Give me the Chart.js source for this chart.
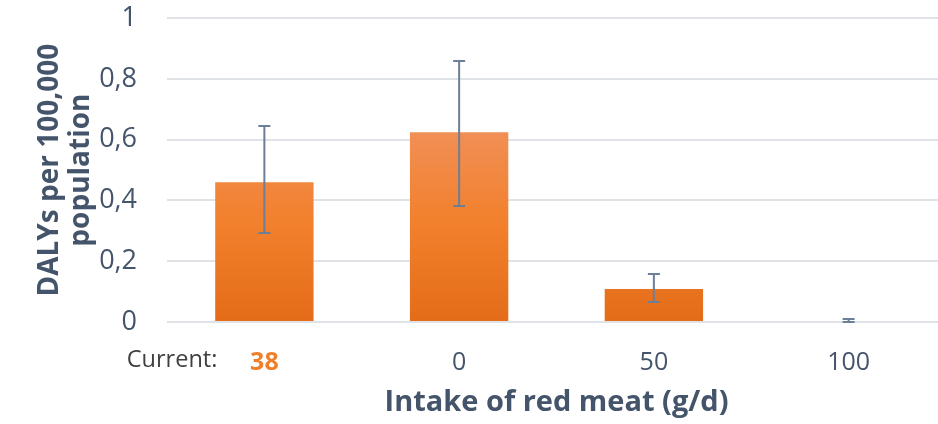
<!DOCTYPE html>
<html>
<head>
<meta charset="utf-8">
<script src="https://cdn.jsdelivr.net/npm/chart.js@4"></script>
<style>
  html, body { margin: 0; padding: 0; background: #fff; overflow: hidden; }
  #wrap { width: 946px; height: 424px; }
</style>
</head>
<body>
<div id="wrap"><canvas id="chart" width="946" height="424"></canvas></div>
<script>
// data
const categories = ['38', '0', '50', '100'];
const dalys = [0.46, 0.625, 0.109, 0.003];
const errLow = [0.293, 0.382, 0.066, 0.0];
const errHigh = [0.645, 0.859, 0.158, 0.01];
const yTicks = [0, 0.2, 0.4, 0.6, 0.8, 1];

const FONT = '"Open Sans"';
const axisGrey = '#44546a';

// vertical orange gradient like the office fill
function barFill(ctx) {
    const area = ctx.chart.chartArea;
    if (!area) return '#f07f2a';
    const y0 = ctx.chart.scales.y.getPixelForValue(0);
    const y1 = ctx.chart.scales.y.getPixelForValue(0.65);
    const g = ctx.chart.ctx.createLinearGradient(0, y1, 0, y0);
    g.addColorStop(0, '#f19058');
    g.addColorStop(0.5, '#f2802c');
    g.addColorStop(1, '#e46c19');
    return g;
}

const errorBars = {
    id: 'errorBars',
    afterDatasetsDraw(chart) {
        const { ctx, scales: { x, y } } = chart;
        ctx.save();
        ctx.strokeStyle = '#6c7f99';
        ctx.lineWidth = 2;
        errHigh.forEach((hi, i) => {
            const cx = x.getPixelForValue(i);
            const top = y.getPixelForValue(hi);
            const bot = y.getPixelForValue(errLow[i]);
            ctx.beginPath();
            ctx.moveTo(cx, top); ctx.lineTo(cx, bot);
            ctx.moveTo(cx - 6, top); ctx.lineTo(cx + 6, top);
            ctx.moveTo(cx - 6, bot); ctx.lineTo(cx + 6, bot);
            ctx.stroke();
        });
        ctx.restore();
    }
};

const currentLabel = {
    id: 'currentLabel',
    afterDraw(chart) {
        const { ctx, scales: { x } } = chart;
        ctx.save();
        ctx.font = '23.5px ' + FONT;
        ctx.fillStyle = '#404040';
        ctx.textAlign = 'right';
        ctx.textBaseline = 'alphabetic';
        ctx.fillText('Current:', x.getPixelForValue(0) - 47, 367);
        ctx.restore();
    }
};

new Chart(document.getElementById('chart'), {
    type: 'bar',
    data: {
        labels: categories,
        datasets: [{
            data: dalys,
            backgroundColor: barFill,
            borderWidth: 0,
            barPercentage: 0.505,
            categoryPercentage: 1
        }]
    },
    options: {
        responsive: false,
        animation: false,
        layout: { padding: 0 },
        plugins: { legend: { display: false }, tooltip: { enabled: false } },
        scales: {
            x: {
                grid: { display: false },
                border: { display: false },
                ticks: {
                    padding: 18,
                    font: ctx => ({ family: FONT, size: 25, weight: ctx.index === 0 ? 'bold' : 'normal' }),
                    color: ctx => ctx.index === 0 ? '#f07f2a' : axisGrey
                },
                title: {
                    display: true,
                    text: 'Intake of red meat (g/d)',
                    color: axisGrey,
                    font: { family: FONT, size: 29, weight: 'bold' },
                    padding: { top: 6 }
                },
                afterFit: s => { s.height = 102; }
            },
            y: {
                min: 0, max: 1,
                afterBuildTicks: s => { s.ticks = yTicks.map(v => ({ value: v })); },
                grid: { color: '#dfe2e6', lineWidth: 2, drawTicks: true, tickLength: 28, tickColor: 'rgba(0,0,0,0)' },
                border: { display: false },
                ticks: {
                    padding: 2,
                    color: axisGrey,
                    font: { family: FONT, size: 27 },
                    callback: v => String(v).replace('.', ',')
                },
                title: {
                    display: true,
                    text: ['DALYs per 100,000', 'population'],
                    color: axisGrey,
                    font: { family: FONT, size: 28, weight: 'bold', lineHeight: 1.1 },
                    padding: { top: 35, bottom: 0 }
                },
                afterFit: s => { s.width = 167; }
            }
        }
    },
    plugins: [errorBars, currentLabel]
});
</script>
</body>
</html>
